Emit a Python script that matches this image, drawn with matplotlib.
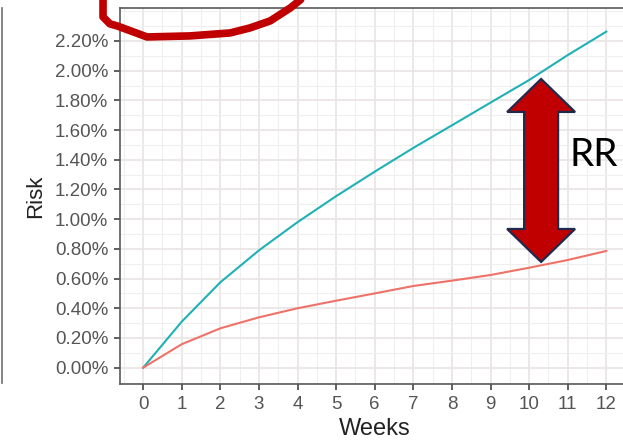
import matplotlib
matplotlib.use("Agg")
import matplotlib.pyplot as plt
from matplotlib.patches import Polygon
from matplotlib.lines import Line2D
from matplotlib.ticker import MultipleLocator, FuncFormatter

# cumulative risk (%) by week for the two groups
weeks = [0, 1, 2, 3, 4, 5, 6, 7, 8, 9, 10, 11, 12]
risk_high = [0.0, 0.31, 0.575, 0.79, 0.98, 1.155, 1.32, 1.48, 1.632, 1.785, 1.937, 2.105, 2.263]
risk_low = [0.0, 0.158, 0.265, 0.339, 0.40, 0.451, 0.50, 0.55, 0.586, 0.624, 0.673, 0.725, 0.786]
risk_ticks = [0.0, 0.2, 0.4, 0.6, 0.8, 1.0, 1.2, 1.4, 1.6, 1.8, 2.0, 2.2]

# hand drawn circle around the top of the chart (weeks, %)
scribble_x = [-1.04, -1.04, -0.86, -0.67, 0.10, 1.21, 2.25, 2.77, 3.29, 3.81, 4.07, 4.15]
scribble_y = [2.50, 2.362, 2.315, 2.301, 2.227, 2.234, 2.254, 2.288, 2.335, 2.422, 2.476, 2.51]

# RR arrow spans the gap between the curves
arrow_x = 10.31
arrow_top = 1.944
arrow_bottom = 0.712

plt.rcParams['font.family'] = ['Liberation Sans', 'DejaVu Sans']

fig = plt.figure(figsize=(6.23, 4.42), dpi=100)
ax = fig.add_axes([120 / 623, 58 / 442, 509.5 / 623, 376 / 442])

ax.plot(weeks, risk_high, color='#1fb1b6', lw=1.5, zorder=3)
ax.plot(weeks, risk_low, color='#ef7268', lw=1.5, zorder=3)

ax.set_xlim(-0.6, 12.6)
ax.set_ylim(-0.11, 2.422)

ax.xaxis.set_major_locator(MultipleLocator(1))
ax.xaxis.set_minor_locator(MultipleLocator(0.5))
ax.set_yticks(risk_ticks)
ax.yaxis.set_minor_locator(MultipleLocator(0.1))
ax.yaxis.set_major_formatter(FuncFormatter(lambda v, p: f"{v:.2f}%"))

ax.grid(which='major', color='#ebe6e6', lw=1.3, zorder=0)
ax.grid(which='minor', color='#f1eeee', lw=0.8, zorder=0)
ax.set_axisbelow(True)

for s in ax.spines.values():
    s.set_color('#5a5a5a')
    s.set_linewidth(1.2)

ax.tick_params(which='major', length=4.5, width=1.2, color='#444444',
               labelcolor='#555555', labelsize=13.5, pad=4)
ax.tick_params(which='minor', length=0)

ax.set_xlabel('Weeks', fontsize=17, color='#222222', labelpad=4)
ax.set_ylabel('Risk', fontsize=16, color='#222222', labelpad=6)

# double headed block arrow
hw = 0.88      # head half width (weeks)
sw = 0.44      # shaft half width (weeks)
hl = 0.222     # head length (%)
arrow_pts = [
    (arrow_x, arrow_top),
    (arrow_x + hw, arrow_top - hl),
    (arrow_x + sw, arrow_top - hl),
    (arrow_x + sw, arrow_bottom + hl),
    (arrow_x + hw, arrow_bottom + hl),
    (arrow_x, arrow_bottom),
    (arrow_x - hw, arrow_bottom + hl),
    (arrow_x - sw, arrow_bottom + hl),
    (arrow_x - sw, arrow_top - hl),
    (arrow_x - hw, arrow_top - hl),
]
ax.add_patch(Polygon(arrow_pts, closed=True, facecolor='#c00000',
                     edgecolor='#1f2a4f', lw=1.6, zorder=4))

ax.text(11.05, 1.43, 'RR', fontsize=28, family=['Lato', 'DejaVu Sans'],
        color='black', va='center', ha='left', zorder=5)

ax.plot(scribble_x, scribble_y, color='#c00000', lw=5.5,
        solid_capstyle='round', solid_joinstyle='round', clip_on=False, zorder=6)

# slide divider line on the far left
fig.add_artist(Line2D([1.5 / 623, 1.5 / 623], [1 - 8 / 442, 1 - 383 / 442],
                      color='#6e6e6e', lw=1.2))

fig.savefig('out.png', dpi=100)
